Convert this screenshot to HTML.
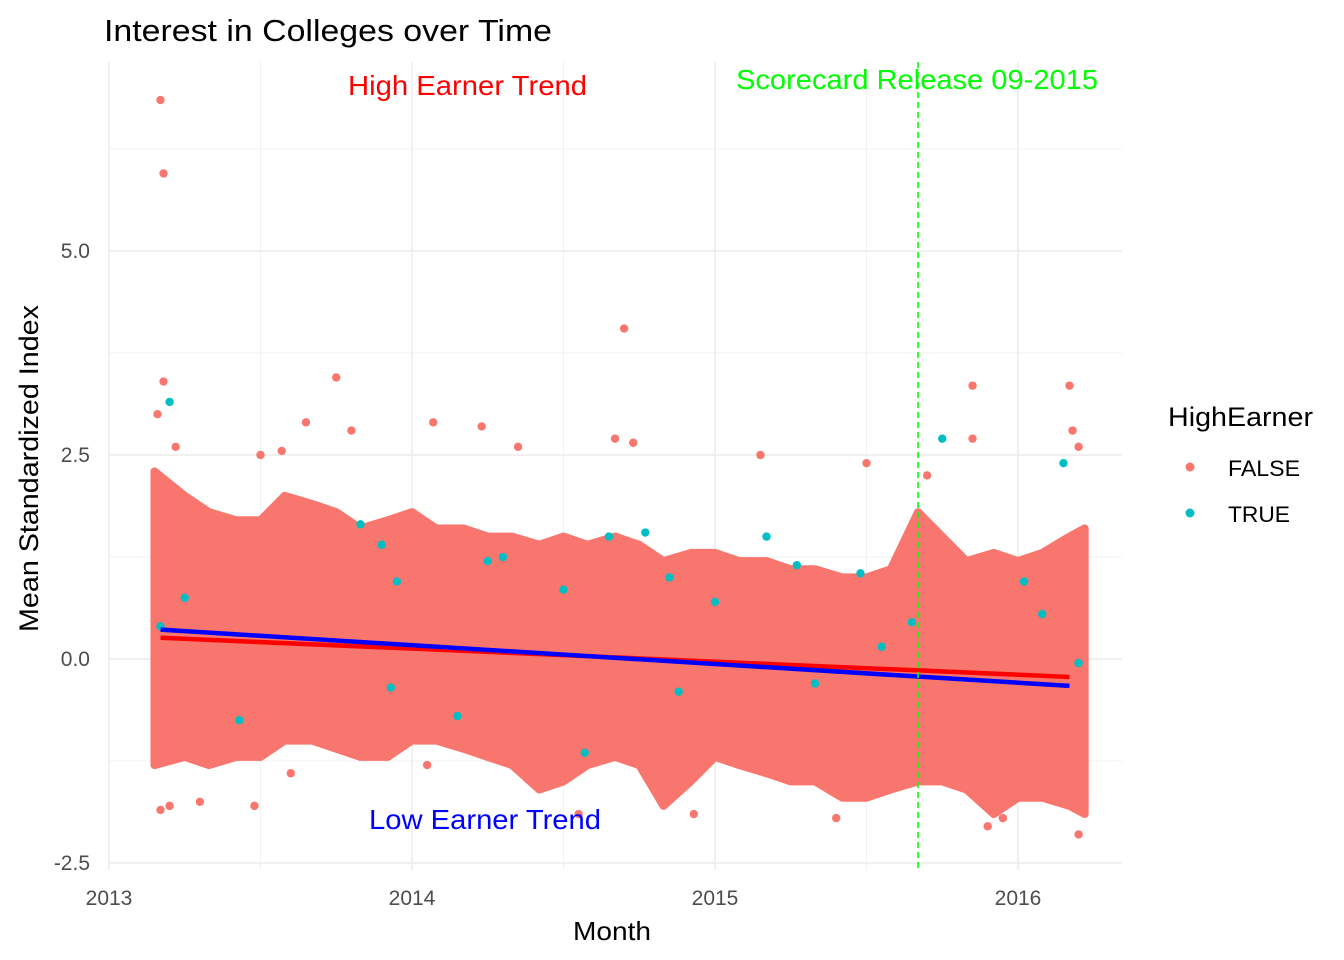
<!DOCTYPE html>
<html><head><meta charset="utf-8"><style>
body{margin:0;background:#fff;}
svg{display:block;font-family:"Liberation Sans",Arial,sans-serif;}
</style></head><body>
<div style="position:relative;width:1344px;height:960px;">
<svg id="chart" width="1344" height="960" style="position:absolute;left:0;top:0"></svg>
<svg width="1344" height="960" style="position:absolute;left:0;top:0">
<text x="104" y="41" font-size="31" textLength="448" lengthAdjust="spacingAndGlyphs" fill="#000">Interest in Colleges over Time</text>
<text x="573" y="940" font-size="26" textLength="78" lengthAdjust="spacingAndGlyphs" fill="#000">Month</text>
<text transform="translate(38,632) rotate(-90)" font-size="27" textLength="327" lengthAdjust="spacingAndGlyphs" fill="#000">Mean Standardized Index</text>
<text x="348" y="95" font-size="28" textLength="239" lengthAdjust="spacingAndGlyphs" fill="#ff0000">High Earner Trend</text>
<text x="736" y="89" font-size="28" textLength="362" lengthAdjust="spacingAndGlyphs" fill="#00ff00">Scorecard Release 09-2015</text>
<text x="369" y="829" font-size="28" textLength="232" lengthAdjust="spacingAndGlyphs" fill="#0000ff">Low Earner Trend</text>
<text x="1168" y="426" font-size="27" textLength="145" lengthAdjust="spacingAndGlyphs" fill="#000">HighEarner</text>
<circle cx="1190" cy="467" r="4.5" fill="#f8766d"/>
<text x="1228" y="476" font-size="22" textLength="72" lengthAdjust="spacingAndGlyphs" fill="#000">FALSE</text>
<circle cx="1190" cy="513" r="4.5" fill="#00bfc4"/>
<text x="1228" y="522" font-size="22" textLength="62" lengthAdjust="spacingAndGlyphs" fill="#000">TRUE</text>
</svg>
</div>
<script>
// data
const bandDates=[2013.15,2013.25,2013.33,2013.42,2013.5,2013.58,2013.67,2013.75,2013.83,2013.92,2014.0,2014.08,2014.17,2014.25,2014.33,2014.42,2014.5,2014.58,2014.67,2014.75,2014.83,2014.92,2015.0,2015.08,2015.17,2015.25,2015.33,2015.42,2015.5,2015.58,2015.67,2015.75,2015.83,2015.92,2016.0,2016.08,2016.17,2016.22];
const bandUpper=[2.3,2.0,1.8,1.7,1.7,2.0,1.9,1.8,1.6,1.7,1.8,1.6,1.6,1.5,1.5,1.4,1.5,1.4,1.5,1.4,1.2,1.3,1.3,1.2,1.2,1.1,1.1,1.0,1.0,1.1,1.8,1.5,1.2,1.3,1.2,1.3,1.5,1.6];
const bandLower=[-1.3,-1.2,-1.3,-1.2,-1.2,-1.0,-1.0,-1.1,-1.2,-1.2,-1.0,-1.0,-1.1,-1.2,-1.3,-1.6,-1.5,-1.3,-1.2,-1.3,-1.8,-1.5,-1.2,-1.3,-1.4,-1.5,-1.5,-1.7,-1.7,-1.6,-1.5,-1.5,-1.6,-1.9,-1.7,-1.7,-1.8,-1.9];
const falseX=[2013.17,2013.18,2013.18,2013.75,2014.7,2015.85,2016.17,2015.85,2013.65,2014.07,2014.23,2014.35,2014.67,2014.73,2013.8,2015.5,2016.18,2013.5,2013.57,2015.15,2013.17,2013.2,2013.3,2013.48,2014.55,2015.4,2015.9,2016.2,2015.95,2014.93,2013.6,2014.05,2013.16,2013.22,2015.7,2016.2];
const falseY=[6.85,5.95,3.4,3.45,4.05,3.35,3.35,2.7,2.9,2.9,2.85,2.6,2.7,2.65,2.8,2.4,2.8,2.5,2.55,2.5,-1.85,-1.8,-1.75,-1.8,-1.9,-1.95,-2.05,-2.15,-1.95,-1.9,-1.4,-1.3,3.0,2.6,2.25,2.6];
const trueX=[2013.2,2015.75,2016.15,2013.25,2013.17,2013.83,2013.9,2013.95,2014.25,2014.3,2014.5,2014.65,2014.77,2014.85,2015.0,2015.17,2015.27,2015.48,2015.65,2016.02,2016.08,2016.2,2013.93,2014.57,2015.33,2014.88,2015.55,2014.15,2013.43];
const trueY=[3.15,2.7,2.4,0.75,0.4,1.65,1.4,0.95,1.2,1.25,0.85,1.5,1.55,1.0,0.7,1.5,1.15,1.05,0.45,0.95,0.55,-0.05,-0.35,-1.15,-0.3,-0.4,0.15,-0.7,-0.75];
const trendDates=[2013.17,2016.17];
const highTrend=[0.26,-0.22];
const lowTrend=[0.36,-0.33];
const xTicks=[2013,2014,2015,2016];
const yTicks=[-2.5,0.0,2.5,5.0];
const yTickLabels=["-2.5","0.0","2.5","5.0"];
const releaseDate=2015.67;

const X=v=>109+(v-2013)*303;
const Y=v=>659-v*81.6;
const svg=document.getElementById('chart');
const NS='http://www.w3.org/2000/svg';
function mk(tag,attrs,parent){const e=document.createElementNS(NS,tag);for(const k in attrs)e.setAttribute(k,attrs[k]);(parent||svg).appendChild(e);return e;}

for(let y=-3.75;y<=6.25;y+=1.25){const major=Math.abs(y/2.5-Math.round(y/2.5))<1e-6;
 const g=mk('line',{x1:109,x2:1122,y1:Y(y),y2:Y(y),stroke:'#ebebeb','stroke-width':major?1.4:0.7});
 
 }
for(let x=2012.5;x<=2016.5;x+=0.5){if(X(x)<105||X(x)>1125)continue;const major=Math.abs(x-Math.round(x))<1e-6;
 const g=mk('line',{x1:X(x),x2:X(x),y1:62,y2:870,stroke:'#ebebeb','stroke-width':major?1.4:0.7});
 
 }

let d='';bandDates.forEach((t,i)=>{d+=(i?'L':'M')+X(t)+','+Y(bandUpper[i]);});
for(let i=bandDates.length-1;i>=0;i--)d+='L'+X(bandDates[i])+','+Y(bandLower[i]);
const band=mk('path',{d:d+'Z',fill:'#f8766d',stroke:'#f8766d','stroke-width':8,'stroke-linejoin':'round'});



falseX.forEach((t,i)=>{const c=mk('circle',{cx:X(t),cy:Y(falseY[i]),r:4.2,fill:'#f8766d'});
 
 });
trueX.forEach((t,i)=>{const c=mk('circle',{cx:X(t),cy:Y(trueY[i]),r:4.2,fill:'#00bfc4'});
 
 });

const hl=mk('line',{x1:X(trendDates[0]),x2:X(trendDates[1]),y1:Y(highTrend[0]),y2:Y(highTrend[1]),stroke:'#ff0000','stroke-width':4.5});


const ll=mk('line',{x1:X(trendDates[0]),x2:X(trendDates[1]),y1:Y(lowTrend[0]),y2:Y(lowTrend[1]),stroke:'#0000ff','stroke-width':4.5});



const vl=mk('line',{x1:X(releaseDate),x2:X(releaseDate),y1:62,y2:870,stroke:'#00ff00','stroke-width':1.6,'stroke-dasharray':'6,4'});



xTicks.forEach(t=>{const e=mk('text',{x:X(t),y:905,'text-anchor':'middle','font-size':21,fill:'#4d4d4d'});e.textContent=String(t);
 
 });
yTicks.forEach((t,i)=>{const e=mk('text',{x:90,y:Y(t)+7,'text-anchor':'end','font-size':21,fill:'#4d4d4d'});e.textContent=yTickLabels[i];
 
 });
</script>
</body></html>
